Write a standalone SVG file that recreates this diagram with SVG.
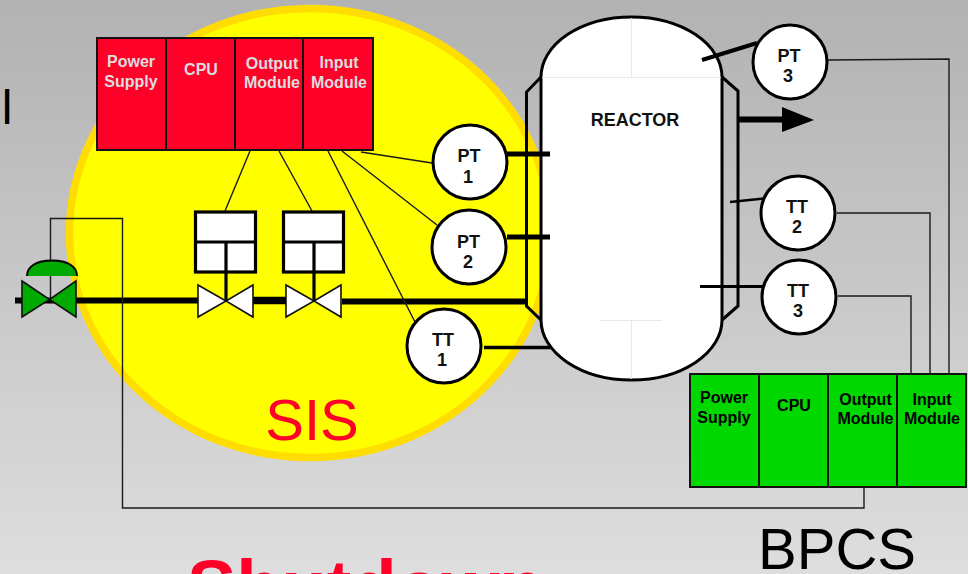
<svg xmlns="http://www.w3.org/2000/svg" width="968" height="574" viewBox="0 0 968 574">
<defs>
<linearGradient id="bg" x1="0" y1="0" x2="0" y2="1"><stop offset="0" stop-color="#b2b2b2"/><stop offset="1" stop-color="#dedede"/></linearGradient>
</defs>
<style>
text{font-family:"Liberation Sans",Arial,sans-serif}
.b{font-weight:bold;text-anchor:middle;font-size:16px}
.w{fill:#dddddd}.k{fill:#000}
.c{font-weight:bold;text-anchor:middle;font-size:18px;fill:#111}
.mod{stroke:#111;stroke-width:2}
.red{fill:#ff0029}.grn{fill:#00d800}
.th{fill:none;stroke:#1a1a1a;stroke-width:1.4}
.hv{fill:none;stroke:#000}
.inst{fill:#fff;stroke:#000;stroke-width:3}
.vw{fill:#fff;stroke:#111;stroke-width:1.6}
.vg{fill:#00aa00;stroke:#111;stroke-width:1.6}
.box{fill:#fff;stroke:#000;stroke-width:3.2}
.faint{fill:none;stroke:#e8e8e8;stroke-width:1}
</style>
<rect width="968" height="574" fill="url(#bg)"/>
<text x="1.7" y="124" font-size="48" fill="#000">l</text>
<g id="sis-zone">
<ellipse cx="310" cy="233" rx="240.5" ry="224.5" fill="#ffff00" stroke="#ffdd00" stroke-width="7.5"/>
<text x="312" y="440" font-size="58" text-anchor="middle" fill="#ff0029">SIS</text>
</g>
<text x="187" y="612" font-size="74" font-weight="bold" fill="#ff0029">Shutdown</text>
<text x="837" y="569" font-size="58" text-anchor="middle" fill="#000">BPCS</text>
<g id="reactor">
<path d="M541,77 A90.5,60 0 0 1 722,77 V320 A90.5,60 0 0 1 541,320 Z" fill="#fff" stroke="#000" stroke-width="3"/>
<path class="faint" d="M542,77.5 H721 M631.5,18 V77 M600,320.5 H662 M631.5,320 V379"/>
<path class="hv" stroke-width="3" d="M541,77 L526.5,92 V306 L541,320 M722,77 L738,91 V306 L722,320"/>
<text x="635" y="126" class="c">REACTOR</text>
</g>
<g id="connectors">
<path class="hv" stroke-width="6" d="M15,300.5 H198 M342,301.5 H526.5"/>
<path class="hv" stroke-width="7.5" d="M253,300.5 H286"/>
<path class="hv" stroke-width="5" d="M507,154 H550 M507,237 H550"/>
<path class="hv" stroke-width="3.5" d="M484,347.5 H551"/>
<path class="hv" stroke-width="4" d="M702,60 L757,43"/>
<path class="hv" stroke-width="2.5" d="M730,202 L764,198.5"/>
<path class="hv" stroke-width="3" d="M700,286.5 H767"/>
<path class="hv" stroke-width="6" d="M739,119.5 H784"/>
<polygon points="782,107 814,120 782,132" fill="#000"/>
<path class="th" d="M361,152 L432,163 M342,151 L437,225 M328,151 L415,322 M250,151 L225,211 M279,151 L312,211"/>
<path class="th" d="M827,60 L949,59 V374 M837,213 H930 V374 M838,296 H911 V374"/>
<path class="th" d="M50.5,276 V218.5 H122.5 V508 H864 V487"/>
</g>
<g id="sis-plc">
<rect class="red mod" x="97" y="38" width="276" height="112"/>
<path class="mod" d="M166,38 V150 M235,38 V150 M303,38 V150"/>
<text class="b w" x="131" y="67">Power</text><text class="b w" x="131" y="87">Supply</text>
<text class="b w" x="201" y="75">CPU</text>
<text class="b w" x="272" y="69">Output</text><text class="b w" x="272" y="88">Module</text>
<text class="b w" x="339" y="68">Input</text><text class="b w" x="339" y="88">Module</text>
</g>
<g id="bpcs-plc">
<rect class="grn mod" x="690" y="374" width="276" height="113"/>
<path class="mod" d="M759,374 V487 M828,374 V487 M897,374 V487"/>
<text class="b k" x="724" y="403">Power</text><text class="b k" x="724" y="423">Supply</text>
<text class="b k" x="794" y="411">CPU</text>
<text class="b k" x="865.5" y="405">Output</text><text class="b k" x="865.5" y="424">Module</text>
<text class="b k" x="932" y="405">Input</text><text class="b k" x="932" y="424">Module</text>
</g>
<g id="control-valve">
<path d="M27,276 C27,266 37,260.5 52,260.5 C67,260.5 77,266 77,276 Z" fill="#00aa00"/>
<path class="hv" stroke-width="2" d="M27,276 C27,266 37,260.5 52,260.5 C67,260.5 77,266 77,276"/>
<path class="th" d="M50.5,276 V300"/>
<polygon class="vg" points="22,281 49.5,299.5 22,317"/>
<polygon class="vg" points="76,281 49.5,299.5 76,317"/>
</g>
<g id="sov-1">
<rect class="box" x="195.5" y="212" width="60" height="60"/>
<path class="hv" stroke-width="3.2" d="M195.5,242 H255.5 M226,242 V301"/>
<polygon class="vw" points="198,285 226,301 198,317"/>
<polygon class="vw" points="253,285 226,301 253,317"/>
</g>
<g id="sov-2">
<rect class="box" x="283.5" y="212" width="60" height="60"/>
<path class="hv" stroke-width="3.2" d="M283.5,242 H343.5 M314,242 V301"/>
<polygon class="vw" points="286,285 314,301 286,317"/>
<polygon class="vw" points="341,285 314,301 341,317"/>
</g>
<g id="pt1"><circle class="inst" cx="470" cy="162" r="37"/><text class="c" x="469" y="162">PT</text><text class="c" x="468" y="183">1</text></g>
<g id="pt2"><circle class="inst" cx="469" cy="247" r="37"/><text class="c" x="468.5" y="248">PT</text><text class="c" x="468" y="268">2</text></g>
<g id="tt1"><circle class="inst" cx="444" cy="346" r="37"/><text class="c" x="443" y="346">TT</text><text class="c" x="442" y="366">1</text></g>
<g id="pt3"><circle class="inst" cx="790" cy="62" r="37"/><text class="c" x="789" y="62">PT</text><text class="c" x="788" y="82">3</text></g>
<g id="tt2"><circle class="inst" cx="798" cy="213" r="37"/><text class="c" x="797" y="213">TT</text><text class="c" x="797" y="233">2</text></g>
<g id="tt3"><circle class="inst" cx="799" cy="297" r="37"/><text class="c" x="798" y="297">TT</text><text class="c" x="798" y="317">3</text></g>
</svg>
